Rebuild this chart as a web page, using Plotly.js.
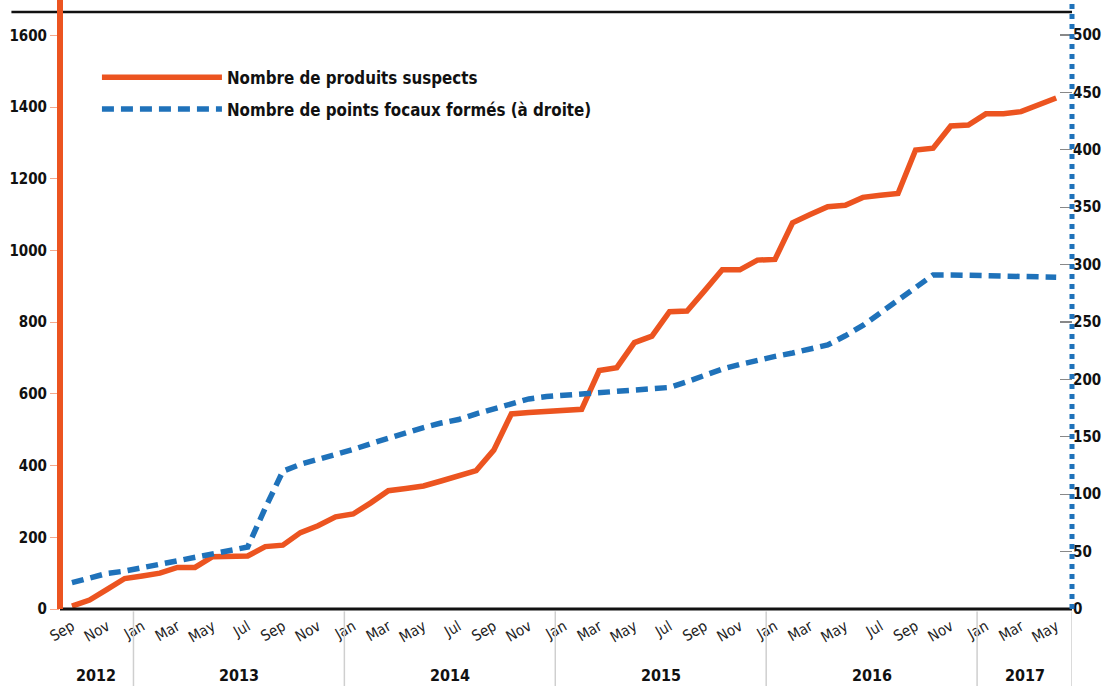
<!DOCTYPE html>
<html>
<head>
<meta charset="utf-8">
<script src="https://cdn.plot.ly/plotly-3.0.1.min.js"></script>
<style>html,body{margin:0;padding:0;background:#fff;}#chart{width:1112px;height:686px;}</style>
</head>
<body>
<div id="chart"></div>
<script>
// Monthly index 0 = Sep 2012 ... 56 = May 2017
var produitsSuspects = [8, 25, 55, 85, 92, 100, 116, 116, 146, 147, 148, 174, 178, 213, 232, 257, 265, 296, 330, 336,
  343, 357, 372, 386, 443, 544, 548, 552, 555, 557, 665, 673, 743, 761, 829, 831, 888, 946, 946, 973,
  975, 1077, 1100, 1122, 1126, 1148, 1154, 1159, 1280, 1285, 1347, 1350, 1381, 1381, 1387, 1406, 1425];
var pointsFocaux = [23, 27, 31, 33, 36, 40, 43, 46, 49, 51, 54, 88, 120, 126, 130, 134, 139, 144, 149, 154,
  158, 162, 165, 170, 174, 179, 183, 185, 186, 187, 189, 190, 191, 192, 193, 198, 204, 209, 213, 217,
  220, 223, 226, 230, 238, 247, 258, 269, 280, 291, 291, 290.5, 290, 290, 289.5, 289, 289];
var monthLabels = ['Sep','Nov','Jan','Mar','May','Jul','Sep','Nov','Jan','Mar','May','Jul','Sep','Nov',
  'Jan','Mar','May','Jul','Sep','Nov','Jan','Mar','May','Jul','Sep','Nov','Jan','Mar','May'];
var years = ['2012','2013','2014','2015','2016','2017'];
var yearBounds = [-0.8, 3.5, 15.5, 27.5, 39.5, 51.5, 56.9];
var leftTicks = [0, 200, 400, 600, 800, 1000, 1200, 1400, 1600];
var rightTicks = [0, 50, 100, 150, 200, 250, 300, 350, 400, 450, 500];
var seriesNames = ['Nombre de produits suspects', 'Nombre de points focaux formés (à droite)'];

var months = produitsSuspects.map(function(_, i){ return i; });
var tickvals = monthLabels.map(function(_, i){ return i * 2; });

var FONT = '"DejaVu Sans Condensed", "Liberation Sans Narrow", "Arial Narrow", sans-serif';
var ORANGE = '#ec5420';
var BLUE = '#1f72ba';

var traces = [
  {x: months, y: produitsSuspects, type: 'scatter', mode: 'lines', name: seriesNames[0],
   legendgroup: 'a', line: {color: ORANGE, width: 5.5}, yaxis: 'y'},
  {x: months, y: pointsFocaux, type: 'scatter', mode: 'lines', name: seriesNames[1],
   legendgroup: 'b', line: {color: BLUE, width: 5.5, dash: '12px,7px'}, yaxis: 'y2'}
];

var shapes = [];
var annotations = [];
for (var k = 0; k < years.length; k++) {
  annotations.push({x: (yearBounds[k] + yearBounds[k+1]) / 2, y: -0.112, xref: 'x', yref: 'paper',
    text: years[k], showarrow: false, yanchor: 'middle',
    font: {family: FONT, size: 16, color: '#111', weight: 'bold'}});
}
for (var b = 0; b < yearBounds.length; b++) {
  shapes.push({type: 'line', xref: 'x', yref: 'paper', x0: yearBounds[b], x1: yearBounds[b],
    y0: -0.004, y1: -0.135, line: {color: '#cfcfcf', width: 1.5}});
}
// frame lines
shapes.push({type: 'line', xref: 'paper', yref: 'paper', x0: -0.048, x1: 1.0, y0: 1, y1: 1,
  line: {color: '#111', width: 2.5}, layer: 'above'});
shapes.push({type: 'line', xref: 'paper', yref: 'paper', x0: 0, x1: 1.0, y0: 0, y1: 0,
  line: {color: '#111', width: 3}, layer: 'above'});
shapes.push({type: 'line', xref: 'paper', yref: 'paper', x0: 0, x1: 0, y0: 0, y1: 1.02,
  line: {color: ORANGE, width: 6}, layer: 'above'});
shapes.push({type: 'line', xref: 'paper', yref: 'paper', x0: 1, x1: 1, y0: 0, y1: 1.02,
  line: {color: BLUE, width: 5, dash: 'dot'}, layer: 'above'});

var layout = {
  width: 1112, height: 686,
  margin: {l: 60, r: 40, t: 12, b: 77},
  paper_bgcolor: '#fff', plot_bgcolor: '#fff',
  font: {family: FONT, color: '#111'},
  showlegend: true,
  legend: {x: 0.0365, y: 0.92, xanchor: 'left', yanchor: 'top', bgcolor: 'rgba(0,0,0,0)',
    font: {family: FONT, size: 16.8, color: '#111', weight: 'bold'}, itemwidth: 120, tracegroupgap: 7},
  xaxis: {range: [-0.68, 56.9], tickvals: tickvals, ticktext: monthLabels, tickangle: -30,
    showgrid: false, zeroline: false, showline: false, ticks: '', ticklabelstandoff: 5,
    tickfont: {family: FONT, size: 15, color: '#222'}},
  yaxis: {range: [0, 1665], tickvals: leftTicks, showgrid: false, zeroline: false, showline: false,
    ticks: 'outside', ticklen: 9, tickcolor: '#f6a98c', tickwidth: 1,
    tickfont: {family: FONT, size: 15, color: '#111', weight: 'bold'}},
  yaxis2: {range: [0, 520], overlaying: 'y', side: 'right', tickvals: rightTicks,
    showgrid: false, zeroline: false, showline: false,
    ticks: 'inside', ticklen: 12, tickcolor: '#888', tickwidth: 1.2,
    tickfont: {family: FONT, size: 15, color: '#111', weight: 'bold'}},
  shapes: shapes,
  annotations: annotations
};
Plotly.newPlot('chart', traces, layout, {displayModeBar: false, staticPlot: true});
</script>
</body>
</html>
